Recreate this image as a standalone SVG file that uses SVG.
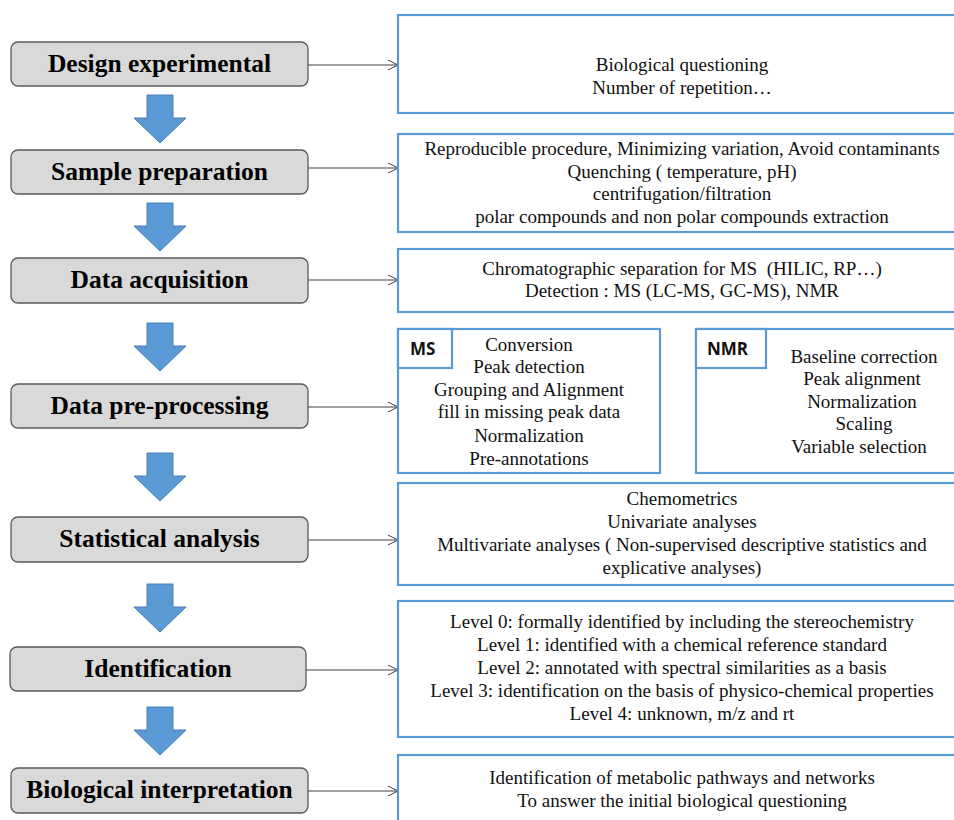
<svg xmlns="http://www.w3.org/2000/svg" width="954" height="820" viewBox="0 0 954 820">
<style>
.step{fill:#D9D9D9;stroke:#5a5a5a;stroke-width:1.3}
.stept{font-family:'Liberation Serif','Times New Roman',serif;font-weight:bold;font-size:25.5px;fill:#000;text-anchor:middle}
.box{fill:#fff;stroke:#5B9BD5;stroke-width:2.2}
.bt{font-family:'Liberation Serif','Times New Roman',serif;font-size:19px;fill:#111;text-anchor:middle;white-space:pre}
.lab{font-family:'Open Sans','Liberation Sans',sans-serif;font-weight:bold;font-size:17px;fill:#111}
.down{fill:#5B9BD5;stroke:#4A7EB5;stroke-width:1}
.conn{stroke:#404040;stroke-width:1;fill:none}
</style>
<defs>
<marker id="open" markerWidth="12" markerHeight="12" refX="11" refY="6" orient="auto" markerUnits="userSpaceOnUse">
<path d="M1,1 L11,6 L1,11" fill="none" stroke="#404040" stroke-width="1"/>
</marker>
<path id="darr" d="M-13,0 H13 V23 H26 L0,48 L-26,23 H-13 Z"/>
</defs>

<g id="flow-arrows">
<use href="#darr" class="down" x="160" y="95"/>
<use href="#darr" class="down" x="160" y="203"/>
<use href="#darr" class="down" x="160" y="323"/>
<use href="#darr" class="down" x="160" y="453"/>
<use href="#darr" class="down" x="160" y="584"/>
<use href="#darr" class="down" x="160" y="707"/>
</g>

<g id="connectors">
<line class="conn" x1="308" y1="65" x2="398" y2="65" marker-end="url(#open)"/>
<line class="conn" x1="308" y1="168" x2="398" y2="168" marker-end="url(#open)"/>
<line class="conn" x1="308" y1="280" x2="398" y2="280" marker-end="url(#open)"/>
<line class="conn" x1="308" y1="407" x2="398" y2="407" marker-end="url(#open)"/>
<line class="conn" x1="308" y1="540" x2="398" y2="540" marker-end="url(#open)"/>
<line class="conn" x1="306" y1="670" x2="398" y2="670" marker-end="url(#open)"/>
<line class="conn" x1="308" y1="791" x2="398" y2="791" marker-end="url(#open)"/>
</g>

<g id="step-design">
<rect class="step" x="11" y="42" width="297" height="44" rx="7"/>
<text class="stept" x="159.5" y="72">Design experimental</text>
</g>
<g id="step-sample">
<rect class="step" x="11" y="150" width="297" height="44" rx="7"/>
<text class="stept" x="159.5" y="180">Sample preparation</text>
</g>
<g id="step-acquisition">
<rect class="step" x="11" y="258" width="297" height="45" rx="7"/>
<text class="stept" x="159.5" y="288">Data acquisition</text>
</g>
<g id="step-preprocessing">
<rect class="step" x="11" y="384" width="297" height="44" rx="7"/>
<text class="stept" x="159.5" y="414">Data pre-processing</text>
</g>
<g id="step-statistical">
<rect class="step" x="11" y="517" width="297" height="45" rx="7"/>
<text class="stept" x="159.5" y="547">Statistical analysis</text>
</g>
<g id="step-identification">
<rect class="step" x="10" y="647" width="296" height="44" rx="7"/>
<text class="stept" x="158" y="677">Identification</text>
</g>
<g id="step-interpretation">
<rect class="step" x="11" y="768" width="297" height="45" rx="7"/>
<text class="stept" x="159.5" y="798">Biological interpretation</text>
</g>

<g id="box-design">
<rect class="box" x="398" y="15" width="570" height="98"/>
<text class="bt" x="682" y="71">Biological questioning</text>
<text class="bt" x="682" y="94">Number of repetition…</text>
</g>
<g id="box-sample">
<rect class="box" x="398" y="134" width="570" height="98"/>
<text class="bt" x="682" y="155">Reproducible procedure, Minimizing variation, Avoid contaminants</text>
<text class="bt" x="682" y="178">Quenching ( temperature, pH)</text>
<text class="bt" x="682" y="200">centrifugation/filtration</text>
<text class="bt" x="682" y="223">polar compounds and non polar compounds extraction</text>
</g>
<g id="box-acquisition">
<rect class="box" x="398" y="249" width="570" height="63"/>
<text class="bt" x="682" y="275">Chromatographic separation for MS  (HILIC, RP…)</text>
<text class="bt" x="682" y="297">Detection : MS (LC-MS, GC-MS), NMR</text>
</g>
<g id="box-ms">
<rect class="box" x="398" y="329" width="262" height="144"/>
<rect class="box" x="398" y="329" width="54" height="39"/>
<text class="lab" x="410" y="355">MS</text>
<text class="bt" x="529" y="351">Conversion</text>
<text class="bt" x="529" y="373">Peak detection</text>
<text class="bt" x="529" y="396">Grouping and Alignment</text>
<text class="bt" x="529" y="418">fill in missing peak data</text>
<text class="bt" x="529" y="442">Normalization</text>
<text class="bt" x="529" y="465">Pre-annotations</text>
</g>
<g id="box-nmr">
<rect class="box" x="696" y="329" width="272" height="144"/>
<rect class="box" x="696" y="329" width="70" height="39"/>
<text class="lab" x="707" y="355">NMR</text>
<text class="bt" x="864" y="363">Baseline correction</text>
<text class="bt" x="862" y="385">Peak alignment</text>
<text class="bt" x="862" y="408">Normalization</text>
<text class="bt" x="864" y="430">Scaling</text>
<text class="bt" x="859" y="453">Variable selection</text>
</g>
<g id="box-statistical">
<rect class="box" x="398" y="483" width="570" height="102"/>
<text class="bt" x="682" y="505">Chemometrics</text>
<text class="bt" x="682" y="528">Univariate analyses</text>
<text class="bt" x="682" y="551">Multivariate analyses ( Non-supervised descriptive statistics and</text>
<text class="bt" x="682" y="574">explicative analyses)</text>
</g>
<g id="box-identification">
<rect class="box" x="398" y="601" width="570" height="136"/>
<text class="bt" x="682" y="628">Level 0: formally identified by including the stereochemistry</text>
<text class="bt" x="682" y="651">Level 1: identified with a chemical reference standard</text>
<text class="bt" x="682" y="674">Level 2: annotated with spectral similarities as a basis</text>
<text class="bt" x="682" y="697">Level 3: identification on the basis of physico-chemical properties</text>
<text class="bt" x="682" y="720">Level 4: unknown, m/z and rt</text>
</g>
<g id="box-interpretation">
<rect class="box" x="398" y="755" width="570" height="90"/>
<text class="bt" x="682" y="784">Identification of metabolic pathways and networks</text>
<text class="bt" x="682" y="807">To answer the initial biological questioning</text>
</g>
</svg>
